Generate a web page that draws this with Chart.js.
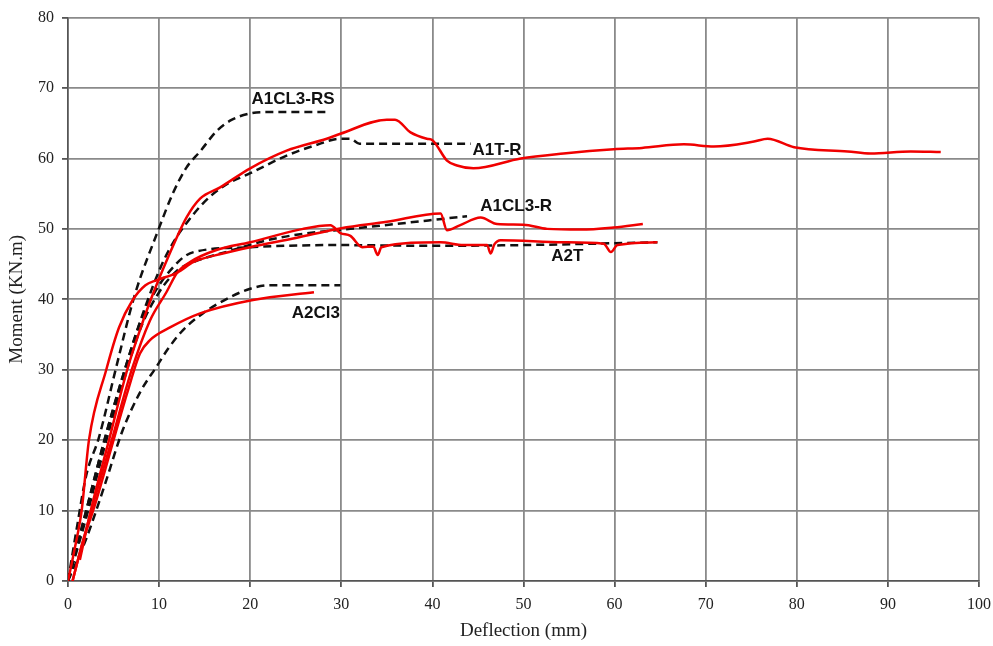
<!DOCTYPE html>
<html>
<head>
<meta charset="utf-8">
<script src="https://cdn.jsdelivr.net/npm/chart.js@4.4.1/dist/chart.umd.min.js"></script>
<style>
  html, body { margin: 0; padding: 0; background: #fff; }
  #wrap { width: 993px; height: 646px; }
</style>
</head>
<body>
<div id="wrap"><canvas id="momentChart" width="993" height="646"></canvas></div>
<script>
// Moment vs deflection - ensaios (vermelho) e modelo (tracejado)
var xTicks = [0, 10, 20, 30, 40, 50, 60, 70, 80, 90, 100];
var yTicks = [0, 10, 20, 30, 40, 50, 60, 70, 80];

// [deflection mm, moment kN.m]
var a1tRTest = [[1.3,3],[2.5,10],[4.5,20],[6.5,30],[8,36],[9.1,40],[11,46],[13,51.6],[14.5,54.3],[16.7,55.9],[20,58.6],[24,61.1],[28.4,62.8],[29.9,63.5],[35,65.5],[35.9,65.5],[37.6,63.7],[39.4,62.8],[40,62.6],[41.6,59.7],[42.7,59],[44.5,58.6],[49.7,60],[54.4,60.7],[59.9,61.3],[63,61.5],[67.6,62],[70.9,61.7],[75.3,62.4],[76.8,62.8],[79.7,61.6],[85.6,61],[88.1,60.7],[92.5,61],[95.8,60.9]];
var a1cl3RTest = [[0,0],[0.8,5],[1.5,10],[2.3,20],[4.2,30],[5.6,36],[7.1,39.9],[8.5,42],[9.7,42.7],[12,43.8],[13.8,45.3],[17,46.5],[20,47.4],[25,48.7],[30,50.1],[35,51],[40.9,52.2],[41.6,49.8],[43,50.5],[45.3,51.6],[47.1,50.7],[50,50.6],[52.6,50],[56.3,49.9],[59.9,50.2],[63.1,50.7]];
var a2tTest = [[0.5,0],[1.5,5],[3,12],[4.8,20],[7,30],[9,37],[10.8,41],[12,43.8],[13.4,45.3],[16.3,47],[20,48.1],[25.8,50],[28.8,50.5],[29.9,49.4],[31,49],[32.3,47.4],[33.5,47.5],[34,46.3],[34.4,47.4],[40.9,48.1],[43.4,47.7],[46,47.7],[46.4,46.5],[46.8,47.8],[47.5,48.4],[54.4,48.1],[58.8,47.9],[59.6,46.7],[60.3,47.7],[64.7,48.1]];
var a2cl3Test = [[0.5,0],[1.5,5],[3,11],[5,20],[6.5,26.7],[7.9,32.3],[9,34.2],[11.2,36],[14.5,38],[20.3,39.9],[27,41]];

var a1cl3RSModel = [[0,0],[0.9,7],[2,15],[3.4,20.4],[5.3,30.4],[7.3,40.5],[9.9,49.8],[11.5,55],[13,58.7],[14.5,61],[16.4,64],[18,65.5],[20,66.4],[22,66.6],[28.8,66.6]];
var a1tRModel = [[0,0],[2,10],[4,20],[6,29],[8.5,39],[10.5,45.5],[12,49],[13,50.8],[14.8,53.6],[17,56],[20,57.9],[24,60.4],[27,61.8],[29.9,62.8],[31,62.8],[32,62.1],[44.2,62.1]];
var a1cl3RModel = [[0,0],[2,9],[4,19],[6,28],[8,36],[10,41],[12,44.1],[13.4,45.1],[18.1,47],[21.9,48.4],[25.8,49.3],[31,50],[43.8,51.8]];
var a2tModel = [[0,0],[2,10],[4,20],[6,29],[8,37],[10,42],[11.5,44.5],[12.7,46],[13.8,46.7],[20,47.4],[29.5,47.7],[40,47.6],[50,47.7],[64.7,48.1]];
var a2cl3Model = [[0,0],[2,6],[4,13.5],[6,21.4],[8,27],[9.7,30.4],[11,33],[12.6,35.6],[14.8,38],[17.8,40.3],[20,41.5],[22.2,42],[29.9,42]];

var curveLabels = ['A1CL3-RS', 'A1T-R', 'A1CL3-R', 'A2T', 'A2Cl3'];
var labelX = [24.7, 47.1, 49.2, 54.8, 27.2];
var labelY = [68.4, 61.1, 53.2, 46.1, 38.0];

function toPoints(arr) {
    var pts = [];
    for (var i = 0; i < arr.length; i++) pts.push({ x: arr[i][0], y: arr[i][1] });
    return pts;
}

function testSet(arr) {
    return { data: toPoints(arr), borderColor: '#f00000', borderWidth: 2.5, pointRadius: 0, showLine: true, cubicInterpolationMode: 'monotone', fill: false };
}

function modelSet(arr) {
    return { data: toPoints(arr), borderColor: '#111', borderWidth: 2.5, borderDash: [8, 5], pointRadius: 0, showLine: true, cubicInterpolationMode: 'monotone', fill: false };
}

var labelPlugin = {
    id: 'curveLabels',
    afterDatasetsDraw: function(chart) {
        var ctx = chart.ctx;
        var xs = chart.scales.x, ys = chart.scales.y;
        ctx.save();
        ctx.fillStyle = '#111';
        ctx.font = 'bold 17px "Liberation Sans", Arial, sans-serif';
        ctx.textAlign = 'center';
        ctx.textBaseline = 'middle';
        for (var i = 0; i < curveLabels.length; i++) {
            ctx.fillText(curveLabels[i], xs.getPixelForValue(labelX[i]), ys.getPixelForValue(labelY[i]));
        }
        ctx.restore();
    }
};

var serif = '"Liberation Serif", "Times New Roman", serif';

new Chart(document.getElementById('momentChart'), {
    type: 'scatter',
    data: {
        datasets: [
            testSet(a1tRTest), testSet(a1cl3RTest), testSet(a2tTest), testSet(a2cl3Test),
            modelSet(a1cl3RSModel), modelSet(a1tRModel), modelSet(a1cl3RModel), modelSet(a2tModel), modelSet(a2cl3Model)
        ]
    },
    options: {
        responsive: false,
        animation: false,
        layout: { padding: { left: 0, right: 0, top: 17, bottom: 0 } },
        plugins: { legend: { display: false }, tooltip: { enabled: false } },
        scales: {
            x: {
                type: 'linear', min: 0, max: 100,
                afterBuildTicks: function(s) { s.ticks = xTicks.map(function(v) { return { value: v }; }); },
                afterFit: function(s) { s.height = 65; s.paddingRight = 14; },
                grid: { color: '#8a8a8a', lineWidth: 1.8, tickLength: 6, tickColor: '#555' },
                border: { color: '#555', width: 1.5 },
                ticks: { color: '#222', padding: 8, maxRotation: 0, font: { family: serif, size: 16 } },
                title: { display: true, text: 'Deflection (mm)', color: '#222', padding: { top: 2 }, font: { family: serif, size: 19 } }
            },
            y: {
                type: 'linear', min: 0, max: 80,
                afterBuildTicks: function(s) { s.ticks = yTicks.map(function(v) { return { value: v }; }); },
                afterFit: function(s) { s.width = 68; },
                grid: { color: '#8a8a8a', lineWidth: 1.8, tickLength: 6, tickColor: '#555' },
                border: { color: '#555', width: 1.5 },
                ticks: { color: '#222', padding: 8, font: { family: serif, size: 16 } },
                title: { display: true, text: 'Moment (KN.m)', color: '#222', padding: { top: 6, bottom: 0 }, font: { family: serif, size: 19 } }
            }
        }
    },
    plugins: [labelPlugin]
});
</script>
</body>
</html>
